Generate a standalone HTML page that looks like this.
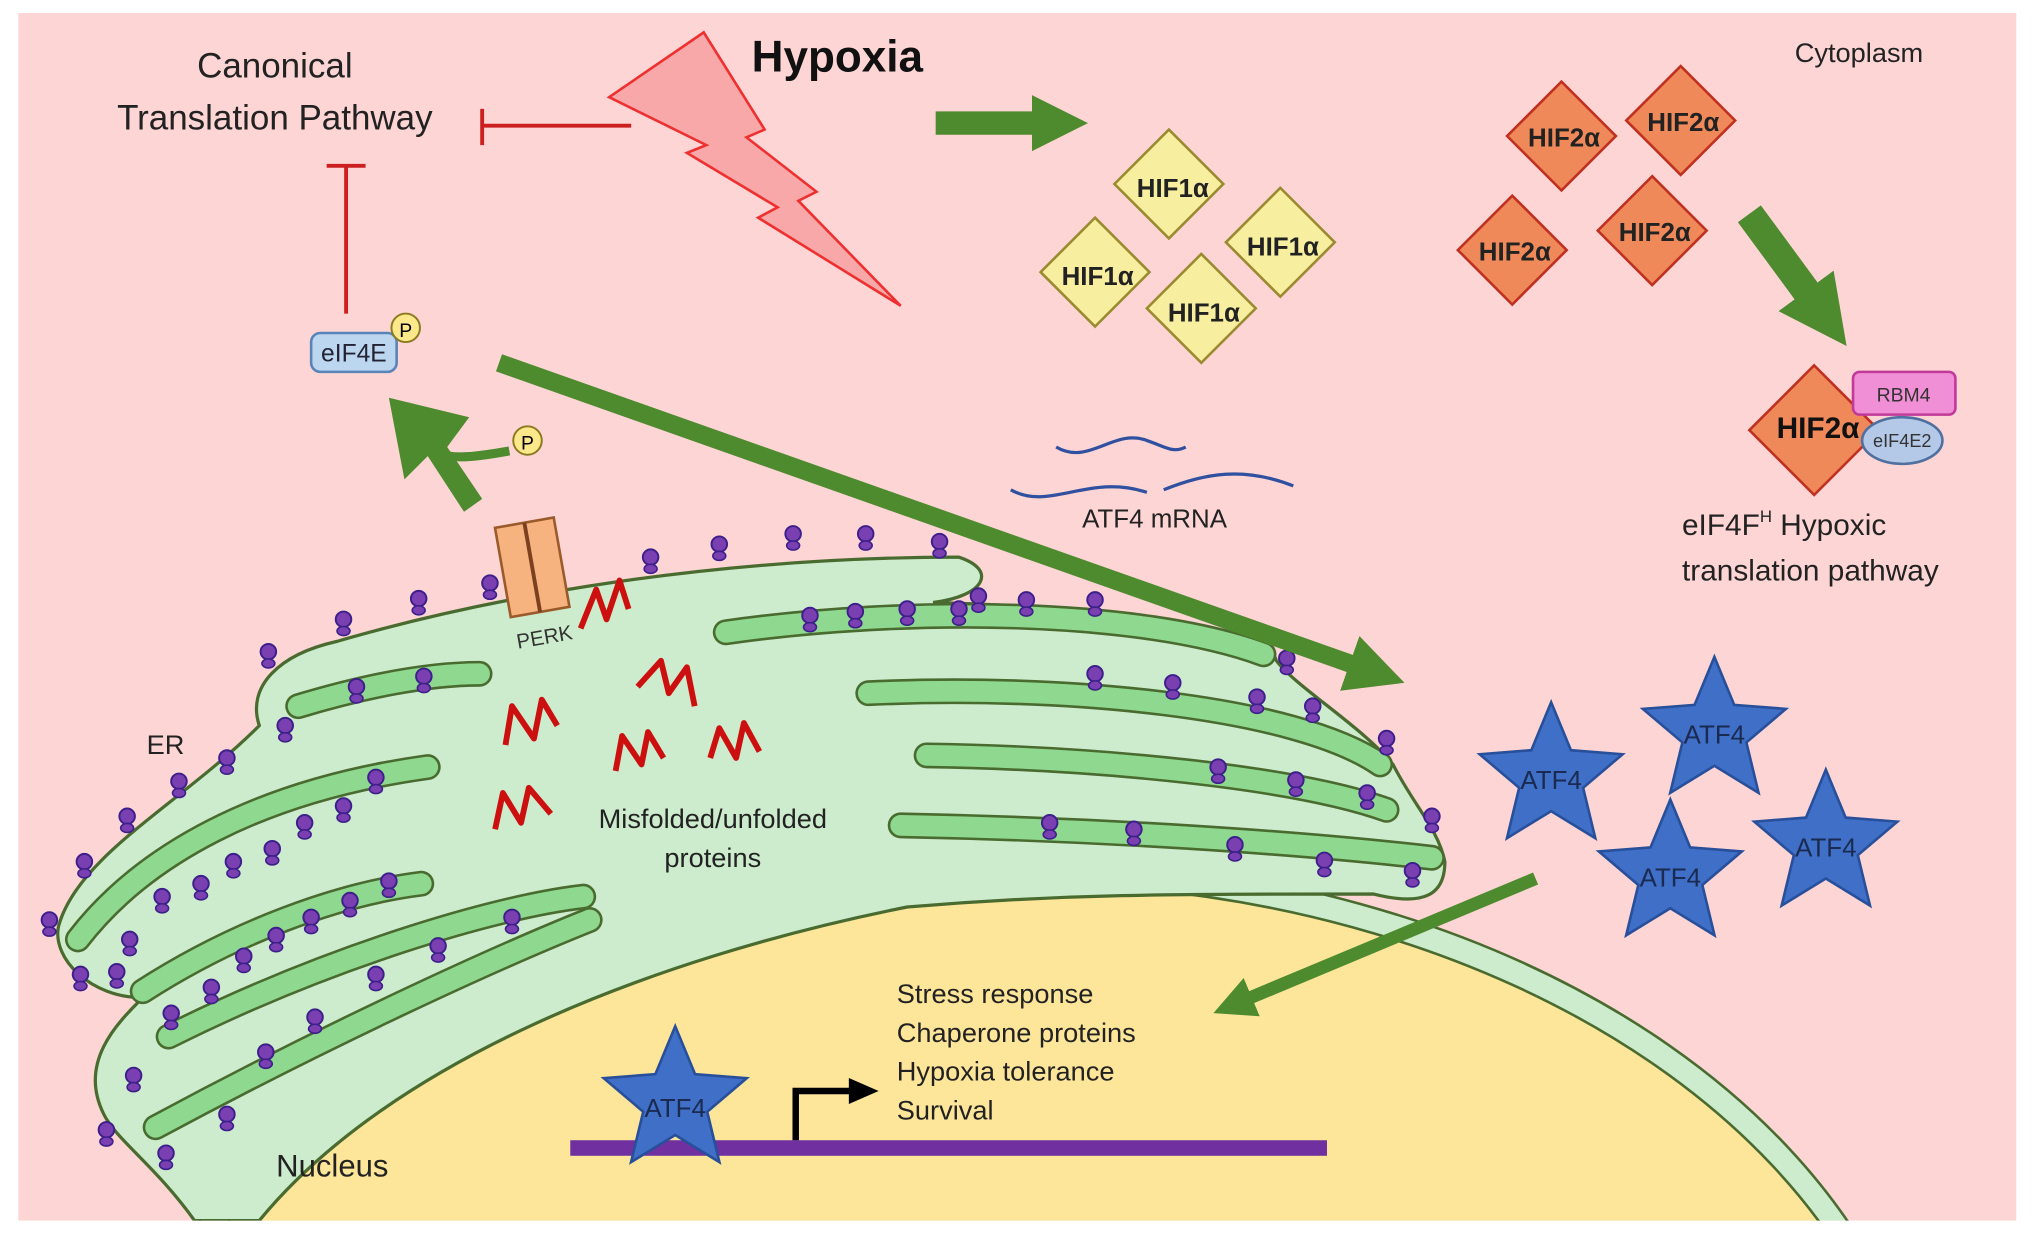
<!DOCTYPE html>
<html><head><style>html,body{margin:0;padding:0;background:#fff;width:2032px;height:1240px;overflow:hidden}svg{display:block}</style></head>
<body>
<svg width="2032" height="1240" viewBox="0 0 1568 957" xmlns="http://www.w3.org/2000/svg" font-family="Liberation Sans, sans-serif">
<defs>
<marker id="ah" viewBox="0 0 10 10" refX="2" refY="5" markerWidth="3.2" markerHeight="3.2" orient="auto"><path d="M0,0 L10,5 L0,10 z" fill="#4e8a2e"/></marker>
<marker id="ah2" viewBox="0 0 10 10" refX="2" refY="5" markerWidth="2.4" markerHeight="2.6" orient="auto"><path d="M0,0 L10,5 L0,10 z" fill="#4e8a2e"/></marker>
<path id="star" d="M0,-58 L15.3,-21 L55.2,-17.9 L24.7,8 L34.1,46.9 L0,26 L-34.1,46.9 L-24.7,8 L-55.2,-17.9 L-15.3,-21 Z" fill="#3f6fc6" stroke="#284f9a" stroke-width="2"/>
<path id="dia" d="M0,-42 L42,0 L0,42 L-42,0 Z"/>
<clipPath id="pg"><rect x="14" y="10" width="1542" height="932"/></clipPath>
<g id="rib"><circle cx="0" cy="0" r="6" fill="#7a3fb0" stroke="#3c1f8a" stroke-width="1.5"/><ellipse cx="0" cy="9" rx="5" ry="3.5" fill="#7a3fb0" stroke="#3c1f8a" stroke-width="1.2"/></g>
</defs>
<rect x="14" y="10" width="1542" height="932" fill="#fdd5d5"/>
<g clip-path="url(#pg)">
<!-- nucleus -->
<ellipse cx="790" cy="1155" rx="705" ry="492" fill="#cdeccd" stroke="#4a6b30" stroke-width="2"/>
<ellipse cx="790" cy="1162" rx="690" ry="480" fill="#fde59a" stroke="#4a6b30" stroke-width="2"/>
<!-- ER body -->
<path d="M150,942 C120,900 90,880 80,860 C60,820 90,790 110,770 C70,770 40,740 45,715 C60,660 140,620 200,560 C190,530 215,505 260,495 C380,460 550,430 740,430 C770,440 760,460 720,465 C900,470 980,490 985,510 C1000,530 1050,560 1075,590 C1090,620 1110,640 1115,665 C1115,690 1100,700 1060,690 C900,690 820,690 700,700 C500,740 300,820 200,942 Z" fill="#cdeccd" stroke="#4a6b30" stroke-width="2.5"/>
<!-- lumen strips -->
<g fill="none" stroke-linecap="round">
<g stroke="#4a6b30" stroke-width="20">
<path d="M230,545 C280,530 330,520 370,520"/><path d="M560,488 C700,468 880,470 975,505"/><path d="M670,535 C820,528 1000,545 1065,590"/><path d="M715,583 C850,585 1000,600 1070,625"/><path d="M695,637 C850,640 1000,650 1105,662"/>
<path d="M60,725 C110,660 200,610 330,592"/><path d="M110,765 C180,720 260,690 325,682"/><path d="M130,800 C250,740 380,700 450,692"/><path d="M120,870 C250,800 380,740 455,710"/>
</g>
<g stroke="#8fd88f" stroke-width="16">
<path d="M230,545 C280,530 330,520 370,520"/><path d="M560,488 C700,468 880,470 975,505"/><path d="M670,535 C820,528 1000,545 1065,590"/><path d="M715,583 C850,585 1000,600 1070,625"/><path d="M695,637 C850,640 1000,650 1105,662"/>
<path d="M60,725 C110,660 200,610 330,592"/><path d="M110,765 C180,720 260,690 325,682"/><path d="M130,800 C250,740 380,700 450,692"/><path d="M120,870 C250,800 380,740 455,710"/>
</g>
</g>
<!-- ribosomes -->
<g>
<use href="#rib" x="38" y="710"/><use href="#rib" x="65" y="665"/><use href="#rib" x="98" y="630"/><use href="#rib" x="138" y="603"/><use href="#rib" x="175" y="585"/><use href="#rib" x="207" y="503"/><use href="#rib" x="265" y="478"/><use href="#rib" x="323" y="462"/><use href="#rib" x="378" y="450"/><use href="#rib" x="502" y="430"/><use href="#rib" x="555" y="420"/><use href="#rib" x="612" y="412"/><use href="#rib" x="668" y="412"/><use href="#rib" x="725" y="418"/><use href="#rib" x="755" y="460"/><use href="#rib" x="792" y="463"/><use href="#rib" x="845" y="463"/><use href="#rib" x="993" y="508"/><use href="#rib" x="1013" y="545"/><use href="#rib" x="1070" y="570"/><use href="#rib" x="1105" y="630"/>
<use href="#rib" x="275" y="530"/><use href="#rib" x="327" y="522"/><use href="#rib" x="625" y="475"/><use href="#rib" x="660" y="472"/><use href="#rib" x="700" y="470"/><use href="#rib" x="740" y="470"/><use href="#rib" x="845" y="520"/><use href="#rib" x="905" y="527"/><use href="#rib" x="970" y="538"/><use href="#rib" x="940" y="592"/><use href="#rib" x="1000" y="602"/><use href="#rib" x="1055" y="612"/><use href="#rib" x="810" y="635"/><use href="#rib" x="875" y="640"/><use href="#rib" x="953" y="652"/><use href="#rib" x="1022" y="664"/><use href="#rib" x="1090" y="672"/>
<use href="#rib" x="220" y="560"/><use href="#rib" x="290" y="600"/><use href="#rib" x="265" y="622"/><use href="#rib" x="235" y="635"/><use href="#rib" x="210" y="655"/><use href="#rib" x="180" y="665"/><use href="#rib" x="155" y="682"/><use href="#rib" x="125" y="692"/><use href="#rib" x="100" y="725"/><use href="#rib" x="90" y="750"/><use href="#rib" x="62" y="752"/>
<use href="#rib" x="300" y="680"/><use href="#rib" x="270" y="695"/><use href="#rib" x="240" y="708"/><use href="#rib" x="213" y="722"/><use href="#rib" x="188" y="738"/><use href="#rib" x="163" y="762"/><use href="#rib" x="132" y="782"/>
<use href="#rib" x="395" y="708"/><use href="#rib" x="338" y="730"/><use href="#rib" x="290" y="752"/><use href="#rib" x="243" y="785"/><use href="#rib" x="205" y="812"/><use href="#rib" x="175" y="860"/><use href="#rib" x="103" y="830"/><use href="#rib" x="82" y="872"/><use href="#rib" x="128" y="890"/>
</g>
<!-- nuclear DNA -->
<rect x="440" y="880" width="584" height="12" fill="#7030a0"/>
<path d="M614,880 L614,842 L660,842" fill="none" stroke="#000" stroke-width="5"/>
<path d="M655,832 L678,842 L655,852 Z" fill="#000"/>
<use href="#star" x="521" y="850"/>
<text x="521" y="862" font-size="20" text-anchor="middle" fill="#1a2a50">ATF4</text>
<text x="213" y="908" font-size="24" fill="#222">Nucleus</text>
<g font-size="21" fill="#222"><text x="692" y="774">Stress response</text><text x="692" y="804">Chaperone proteins</text><text x="692" y="834">Hypoxia tolerance</text><text x="692" y="864">Survival</text></g>
</g>
<!-- PERK -->
<g transform="rotate(-10 410 440)"><rect x="388" y="403" width="46" height="70" fill="#f6b27f" stroke="#9b5a2a" stroke-width="2"/><line x1="411" y1="403" x2="411" y2="473" stroke="#7a4020" stroke-width="3"/></g>
<text x="398" y="497" font-size="16" fill="#333" transform="rotate(-10 420 490)">PERK</text>
<!-- misfolded proteins -->
<g fill="none" stroke="#cc1010" stroke-width="4.5" stroke-linejoin="round">
<path d="M448,485 L460,455 L468,478 L478,448 L485,470"/>
<path d="M390,575 L395,545 L412,570 L418,540 L430,560"/>
<path d="M492,530 L510,510 L516,535 L530,515 L536,545"/>
<path d="M475,595 L480,568 L495,590 L500,565 L512,585"/>
<path d="M548,585 L555,562 L568,585 L574,558 L586,580"/>
<path d="M382,640 L388,612 L402,635 L408,608 L425,628"/>
</g>
<g font-size="21" fill="#222" text-anchor="middle"><text x="550" y="639">Misfolded/unfolded</text><text x="550" y="669">proteins</text></g>
<text x="113" y="582" font-size="21" fill="#222">ER</text>
<!-- top-left -->
<g font-size="27" fill="#222" text-anchor="middle"><text x="212" y="60">Canonical</text><text x="212" y="100">Translation Pathway</text></g>
<g stroke="#cc1f1f" stroke-width="3"><line x1="372" y1="97" x2="487" y2="97"/><line x1="372" y1="84" x2="372" y2="112"/><line x1="267" y1="128" x2="267" y2="242"/><line x1="252" y1="128" x2="282" y2="128"/></g>
<rect x="240" y="257" width="66" height="30" rx="7" fill="#bcd6f0" stroke="#5a84b8" stroke-width="2"/>
<text x="273" y="279" font-size="19" text-anchor="middle" fill="#223">eIF4E</text>
<circle cx="313" cy="253" r="11" fill="#fbe88a" stroke="#8a7a20" stroke-width="1.5"/><text x="313" y="260" font-size="15" text-anchor="middle">P</text>
<circle cx="407" cy="340" r="11" fill="#fbe88a" stroke="#8a7a20" stroke-width="1.5"/><text x="407" y="347" font-size="15" text-anchor="middle">P</text>
<path d="M393,348 C370,352 350,355 340,350" fill="none" stroke="#4e8a2e" stroke-width="7"/>
<polygon points="345,345 372,385 358,395 330,352 312,370 300,307 362,322" fill="#4e8a2e"/>
<!-- lightning -->
<polygon points="470,75 543,25 590,100 576,106 630,148 616,155 695,236 585,168 600,160 530,118 545,112" fill="#f8a8a8" stroke="#ee3030" stroke-width="2"/>
<text x="580" y="55" font-size="34" font-weight="bold" fill="#111">Hypoxia</text>
<text x="1385" y="48" font-size="21" fill="#222">Cytoplasm</text>
<!-- arrows -->
<g stroke="#4e8a2e" fill="none">
<line x1="722" y1="95" x2="805" y2="95" stroke-width="18" marker-end="url(#ah2)"/>
<line x1="385" y1="280" x2="1050" y2="515" stroke-width="14" marker-end="url(#ah)"/>
<line x1="1350" y1="165" x2="1400" y2="233" stroke-width="22" marker-end="url(#ah2)"/>
<line x1="1185" y1="678" x2="960" y2="772" stroke-width="10" marker-end="url(#ah)"/>
</g>
<!-- HIF1a -->
<g fill="#f7ee9f" stroke="#9a8a30" stroke-width="2">
<use href="#dia" x="902" y="142"/><use href="#dia" x="988" y="187"/><use href="#dia" x="845" y="210"/><use href="#dia" x="927" y="238"/>
</g>
<g font-size="20" font-weight="bold" fill="#222" text-anchor="middle"><text x="905" y="152">HIF1α</text><text x="990" y="197">HIF1α</text><text x="847" y="220">HIF1α</text><text x="929" y="248">HIF1α</text></g>
<!-- HIF2a -->
<g fill="#f0895a" stroke="#c03020" stroke-width="2">
<use href="#dia" x="1205" y="105"/><use href="#dia" x="1297" y="93"/><use href="#dia" x="1167" y="193"/><use href="#dia" x="1275" y="178"/>
<path d="M1400,282 L1450,332 L1400,382 L1350,332 Z"/>
</g>
<g font-size="20" font-weight="bold" fill="#222" text-anchor="middle"><text x="1207" y="113">HIF2α</text><text x="1299" y="101">HIF2α</text><text x="1169" y="201">HIF2α</text><text x="1277" y="186">HIF2α</text></g>
<rect x="1430" y="287" width="79" height="33" rx="5" fill="#f18fd6" stroke="#c03a9a" stroke-width="2"/>
<text x="1469" y="310" font-size="15" text-anchor="middle" fill="#333">RBM4</text>
<text x="1403" y="338" font-size="23" font-weight="bold" text-anchor="middle" fill="#111">HIF2α</text>
<ellipse cx="1468" cy="340" rx="31" ry="18" fill="#b4c8e8" stroke="#5070a0" stroke-width="2"/>
<text x="1468" y="345" font-size="14" text-anchor="middle" fill="#333">eIF4E2</text>
<g font-size="23" fill="#222"><text x="1298" y="413">eIF4F<tspan font-size="13" dy="-10">H</tspan><tspan dy="10"> Hypoxic</tspan></text><text x="1298" y="448">translation pathway</text></g>
<!-- mRNA -->
<g fill="none" stroke="#3050a0" stroke-width="2.5">
<path d="M815,345 C840,360 860,330 885,340 C900,345 905,350 915,345"/>
<path d="M780,378 C810,395 840,365 885,380"/>
<path d="M898,378 C930,365 960,360 998,375"/>
</g>
<text x="835" y="407" font-size="20" fill="#222">ATF4 mRNA</text>
<!-- ATF4 stars -->
<use href="#star" x="1197" y="600"/><use href="#star" x="1323" y="565"/><use href="#star" x="1289" y="675"/><use href="#star" x="1409" y="652"/>
<g font-size="20" fill="#1a2a50" text-anchor="middle"><text x="1197" y="609">ATF4</text><text x="1323" y="574">ATF4</text><text x="1289" y="684">ATF4</text><text x="1409" y="661">ATF4</text></g>
</svg>
</body></html>
